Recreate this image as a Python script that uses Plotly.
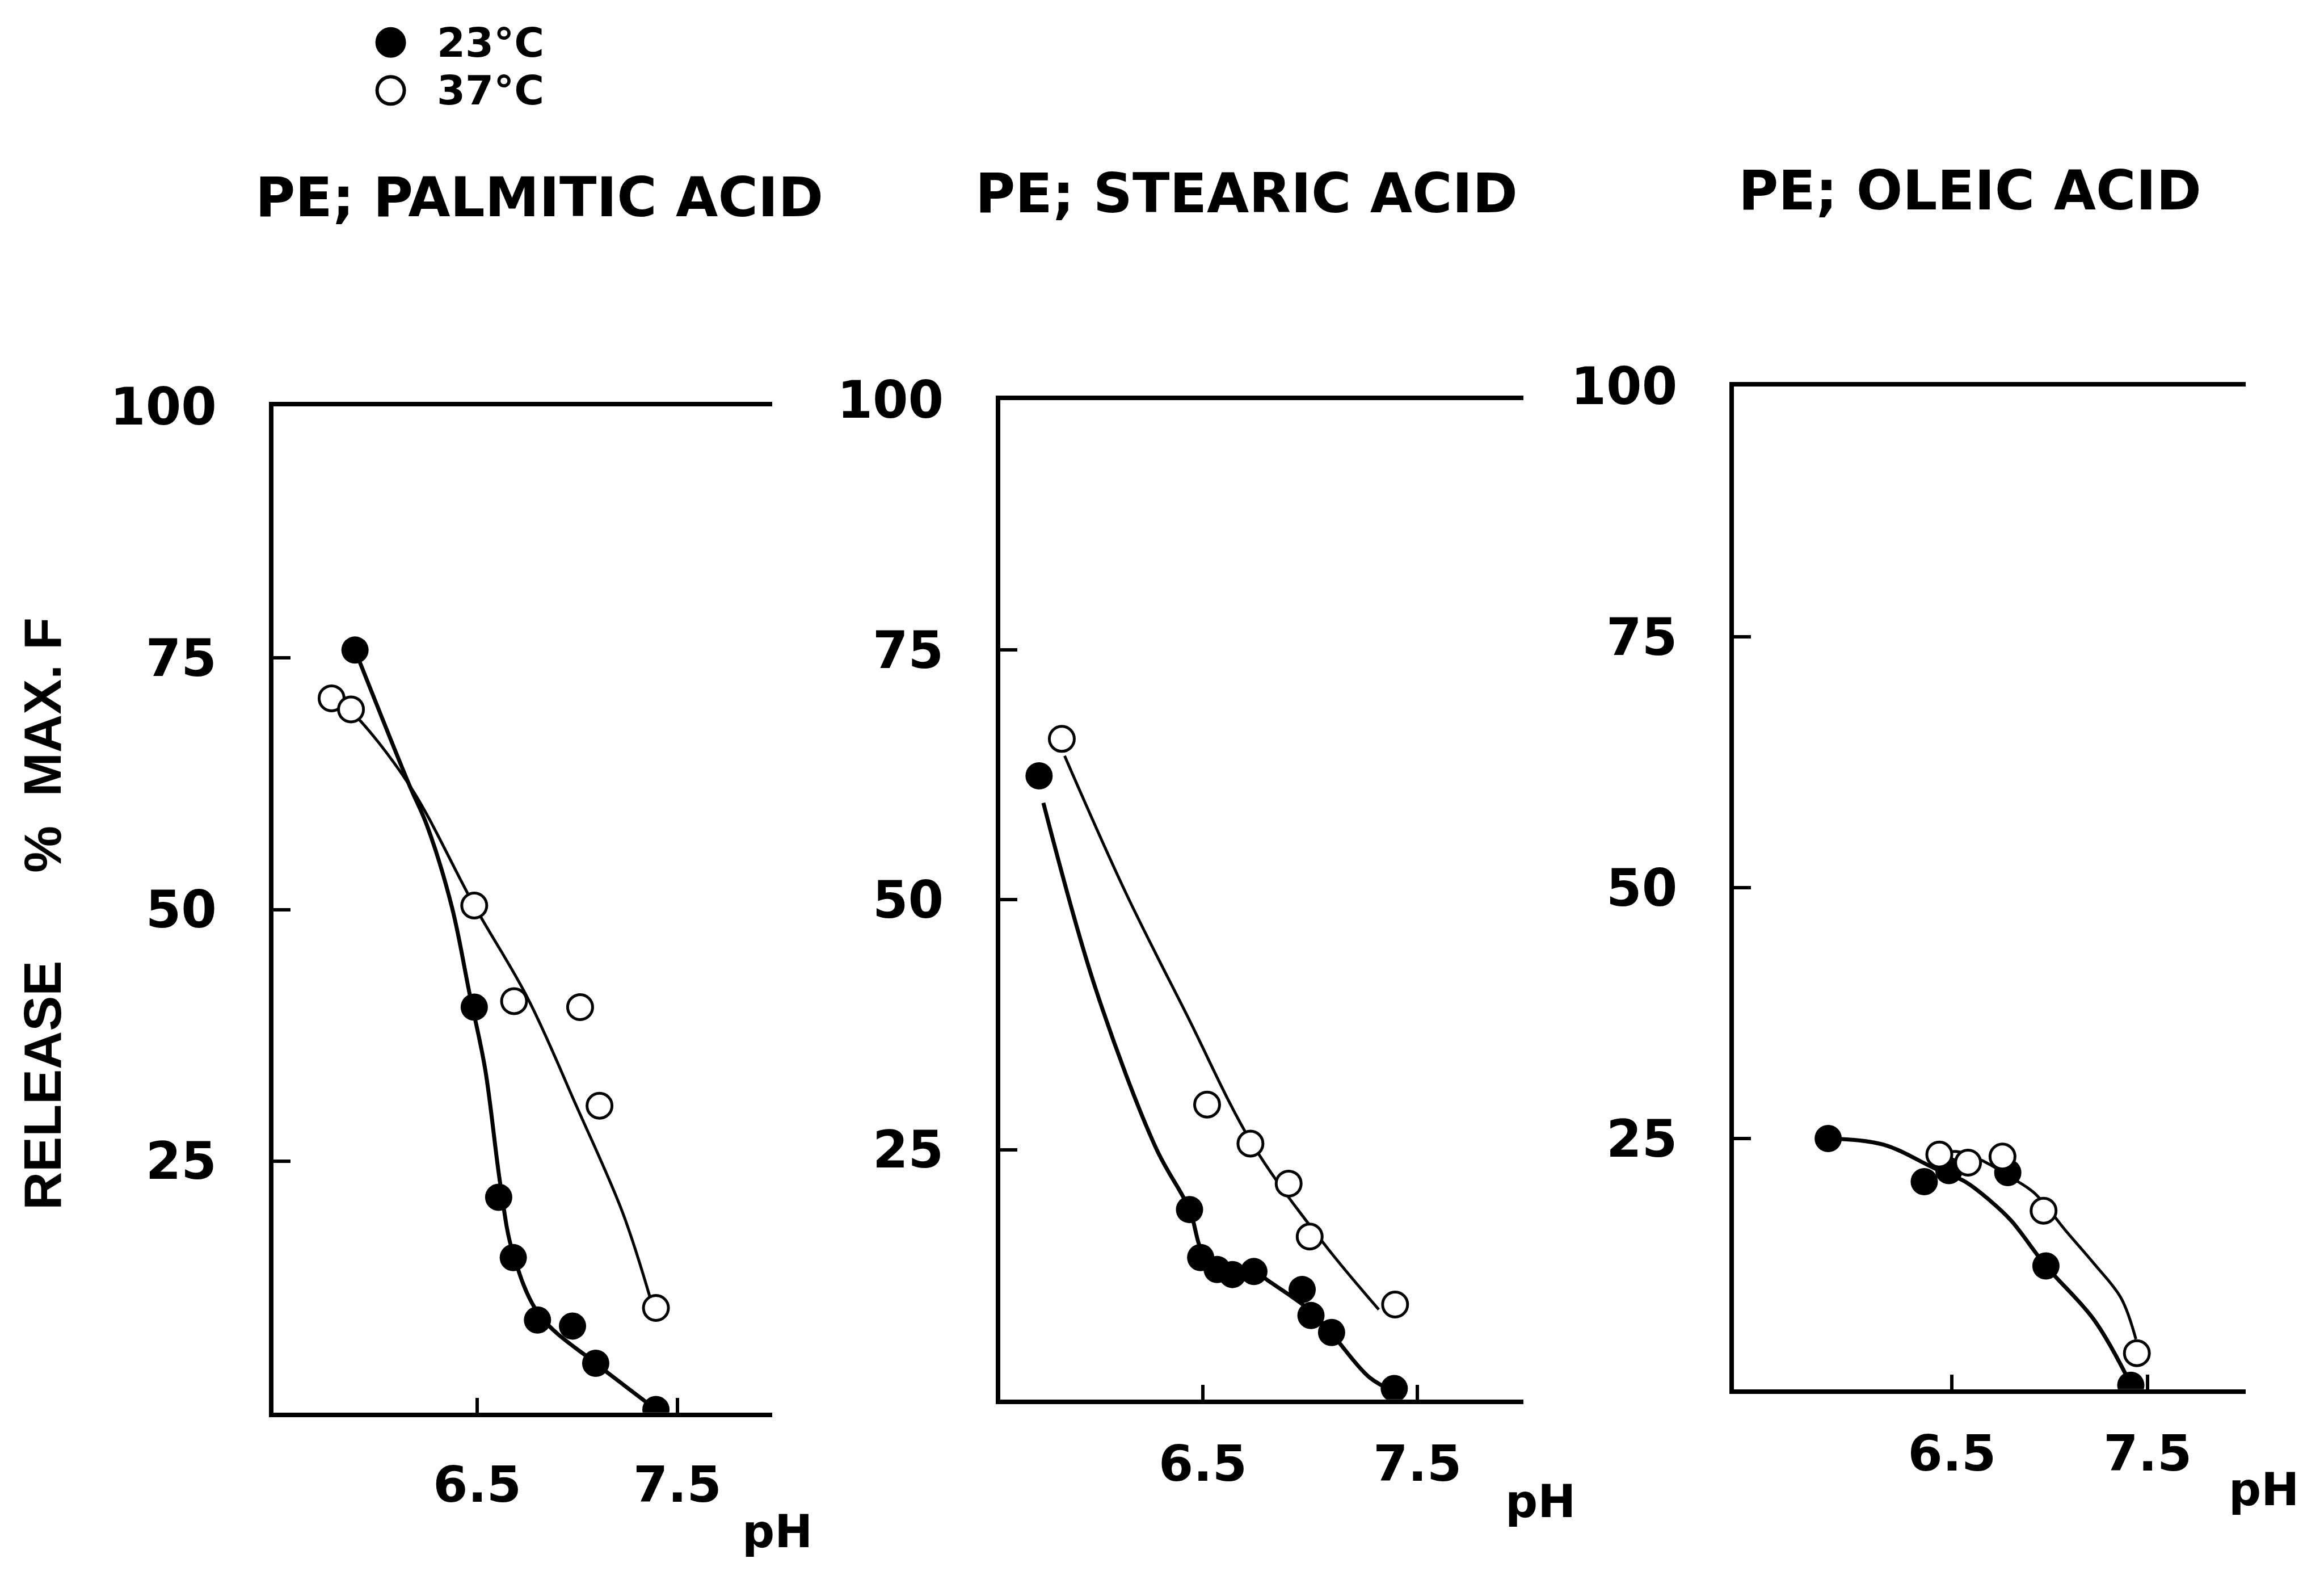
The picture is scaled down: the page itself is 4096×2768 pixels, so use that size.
import plotly.graph_objects as go

W, H = 4096, 2768
TXT = "DejaVu Sans"
TXT2 = "Liberation Sans"
INK = "black"

# ---- panel titles and axis labels ----
titles = ["PE; PALMITIC ACID", "PE; STEARIC ACID", "PE; OLEIC ACID"]
NB = "\u00a0"
y_title = "RELEASE" + NB * 6 + "%" + NB * 2 + "MAX." + NB + "F"
x_unit = "pH"
legend_labels = ["23°C", "37°C"]

x_tickvals = [6.5, 7.5]
x_ticktext = ["6.5", "7.5"]
y_tickvals = [25, 50, 75, 100]
y_ticktext = ["25", "50", "75", "100"]

# ---- PE : palmitic acid ----
palm_23_ph = [5.889, 6.485, 6.607, 6.680, 6.801, 6.976, 7.092, 7.393]
palm_23_rel = [75.8, 40.3, 21.4, 15.4, 9.2, 8.6, 4.9, 0.3]
palm_37_ph = [5.772, 5.869, 6.485, 6.684, 7.014, 7.111, 7.393]
palm_37_rel = [71.0, 69.9, 50.4, 40.9, 40.3, 30.5, 10.4]
# hand-drawn trend curves
palm_23_fit_ph = [5.889, 6.160, 6.248, 6.374, 6.461, 6.539, 6.616, 6.675, 6.811, 7.092, 7.228, 7.393]
palm_23_fit_rel = [75.8, 62.4, 58.4, 50.2, 41.7, 34.2, 22.6, 16.1, 9.7, 4.9, 2.8, 0.3]
palm_37_fit_ph = [5.772, 5.869, 6.160, 6.485, 6.752, 6.995, 7.228, 7.373]
palm_37_fit_rel = [71.0, 69.7, 62.4, 50.4, 41.2, 30.5, 19.8, 10.8]

# ---- PE : stearic acid ----
stear_23_ph = [5.737, 6.438, 6.490, 6.567, 6.638, 6.738, 6.963, 7.004, 7.100, 7.392]
stear_23_rel = [62.4, 19.0, 14.2, 13.0, 12.5, 12.8, 11.0, 8.4, 6.7, 1.1]
stear_37_ph = [5.843, 6.520, 6.722, 6.900, 6.998, 7.396]
stear_37_rel = [66.1, 29.5, 25.6, 21.6, 16.3, 9.5]
stear_23_fit_ph = [5.757, 5.999, 6.283, 6.438, 6.496, 6.567, 6.738, 6.810, 7.000, 7.100, 7.277, 7.392]
stear_23_fit_rel = [59.7, 41.2, 25.1, 19.0, 14.8, 13.2, 12.8, 11.8, 8.9, 6.6, 2.2, 0.8]
stear_37_fit_ph = [5.856, 6.141, 6.425, 6.730, 7.064, 7.320]
stear_37_fit_rel = [64.4, 50.7, 38.5, 25.6, 15.6, 9.0]

# ---- PE : oleic acid ----
ole_23_ph = [5.867, 6.358, 6.484, 6.785, 6.980, 7.414]
ole_23_rel = [25.0, 20.7, 21.8, 21.6, 12.3, 0.4]
ole_37_ph = [6.435, 6.582, 6.758, 6.968, 7.445]
ole_37_rel = [23.4, 22.6, 23.2, 17.8, 3.6]
ole_23_fit_ph = [5.867, 6.148, 6.414, 6.567, 6.695, 6.803, 6.980, 7.227, 7.414]
ole_23_fit_rel = [25.0, 24.4, 22.0, 20.7, 18.8, 16.8, 12.3, 6.9, 0.5]
ole_37_fit_ph = [6.435, 6.526, 6.665, 6.803, 6.919, 7.086, 7.227, 7.364, 7.440]
ole_37_fit_rel = [23.4, 23.7, 22.7, 21.1, 19.6, 15.7, 12.5, 9.1, 5.0]

panels = [
    dict(p23=(palm_23_ph, palm_23_rel), p37=(palm_37_ph, palm_37_rel),
         f23=(palm_23_fit_ph, palm_23_fit_rel), f37=(palm_37_fit_ph, palm_37_fit_rel)),
    dict(p23=(stear_23_ph, stear_23_rel), p37=(stear_37_ph, stear_37_rel),
         f23=(stear_23_fit_ph, stear_23_fit_rel), f37=(stear_37_fit_ph, stear_37_fit_rel)),
    dict(p23=(ole_23_ph, ole_23_rel), p37=(ole_37_ph, ole_37_rel),
         f23=(ole_23_fit_ph, ole_23_fit_rel), f37=(ole_37_fit_ph, ole_37_fit_rel)),
]

# ---- layout geometry (page units, 1568 x 1060 grid) ----
REF_W, REF_H = 1568.0, 1060.0
frames = [  # left, right, top, bottom
    (184.5, 521, 259.0, 951.0),
    (675, 1028, 254.5, 942.0),
    (1170, 1515, 245.0, 935.0),
]
x_ranges = [(5.4815, 7.974), (5.557, 7.995), (5.386, 8.0)]
x_label_standoff = [44, 30, 30]
title_pos = [(364, 115.0), (841, 112.5), (1329, 110.5)]
unit_pos = [(500, 1033), (1015, 1012), (1503, 1004)]


def px(v):
    return v / REF_W


def py(v):
    return 1 - v / REF_H


fig = go.Figure()

for i, pnl in enumerate(panels):
    n = "" if i == 0 else str(i + 1)
    xa, ya = "x" + n, "y" + n
    # trend curves
    for key, w in (("f23", 7), ("f37", 5)):
        fx, fy = pnl[key]
        fig.add_trace(go.Scatter(x=fx, y=fy, mode="lines", xaxis=xa, yaxis=ya,
                                 line=dict(color=INK, width=w, shape="spline", smoothing=1.0),
                                 showlegend=False, hoverinfo="skip"))
    # measured points
    mx, my = pnl["p23"]
    fig.add_trace(go.Scatter(x=mx, y=my, mode="markers", xaxis=xa, yaxis=ya,
                             marker=dict(symbol="circle", size=48, color=INK,
                                         line=dict(color=INK, width=0)),
                             showlegend=False))
    mx, my = pnl["p37"]
    fig.add_trace(go.Scatter(x=mx, y=my, mode="markers", xaxis=xa, yaxis=ya,
                             marker=dict(symbol="circle", size=44, color="white",
                                         line=dict(color=INK, width=5)),
                             showlegend=False))

layout = dict(
    width=W, height=H, margin=dict(l=0, r=0, t=0, b=0),
    paper_bgcolor="white", plot_bgcolor="white", showlegend=False,
)

for i, (l, r, t, b) in enumerate(frames):
    n = "" if i == 0 else str(i + 1)
    layout["xaxis" + n] = dict(
        domain=[px(l), px(r)], range=list(x_ranges[i]), anchor="y" + n,
        tickvals=x_tickvals, ticktext=x_ticktext, ticks="inside", ticklen=26,
        tickwidth=6, tickcolor=INK, showline=True, linewidth=8, linecolor=INK,
        mirror=True, showgrid=False, zeroline=False,
        ticklabelstandoff=x_label_standoff[i],
        tickfont=dict(family=TXT, size=88, color=INK, weight="bold"),
    )
    layout["yaxis" + n] = dict(
        domain=[py(b), py(t)], range=[0, 100], anchor="x" + n,
        tickvals=y_tickvals, ticktext=y_ticktext, ticks="inside", ticklen=30,
        tickwidth=6, tickcolor=INK, showline=True, linewidth=8, linecolor=INK,
        showgrid=False, zeroline=False, ticklabelstandoff=74,
        tickfont=dict(family=TXT, size=90, color=INK, weight="bold"),
    )

fig.update_layout(**layout)

annotations = []
for (cx, cy), txt in zip(title_pos, titles):
    annotations.append(dict(x=px(cx), y=py(cy), xref="paper", yref="paper",
                            text=txt, showarrow=False, xanchor="center", yanchor="middle",
                            font=dict(family=TXT, size=96, color=INK, weight="bold")))
for (lx, cy) in unit_pos:
    annotations.append(dict(x=px(lx), y=py(cy), xref="paper", yref="paper",
                            text=x_unit, showarrow=False, xanchor="left", yanchor="middle",
                            font=dict(family=TXT, size=80, color=INK, weight="bold")))
annotations.append(dict(x=px(29), y=py(608), xref="paper", yref="paper",
                        text=y_title, textangle=-90, showarrow=False,
                        xanchor="center", yanchor="middle",
                        font=dict(family=TXT2, size=93, color=INK, weight="bold")))

# legend key: symbol + temperature
shapes = []
key_rows = [(8.5, INK), (41.5, "white")]
for (ky, fill), lab in zip(key_rows, legend_labels):
    shapes.append(dict(type="circle", xref="paper", yref="paper",
                       xsizemode="pixel", ysizemode="pixel",
                       xanchor=px(263.6), yanchor=py(ky),
                       x0=-24, x1=24, y0=-24, y1=24,
                       fillcolor=fill, line=dict(color=INK, width=6)))
    annotations.append(dict(x=px(294), y=py(ky), xref="paper", yref="paper",
                            text=lab, showarrow=False, xanchor="left", yanchor="middle",
                            font=dict(family=TXT, size=72, color=INK, weight="bold")))

fig.update_layout(annotations=annotations, shapes=shapes)

fig.write_html("out.html")
